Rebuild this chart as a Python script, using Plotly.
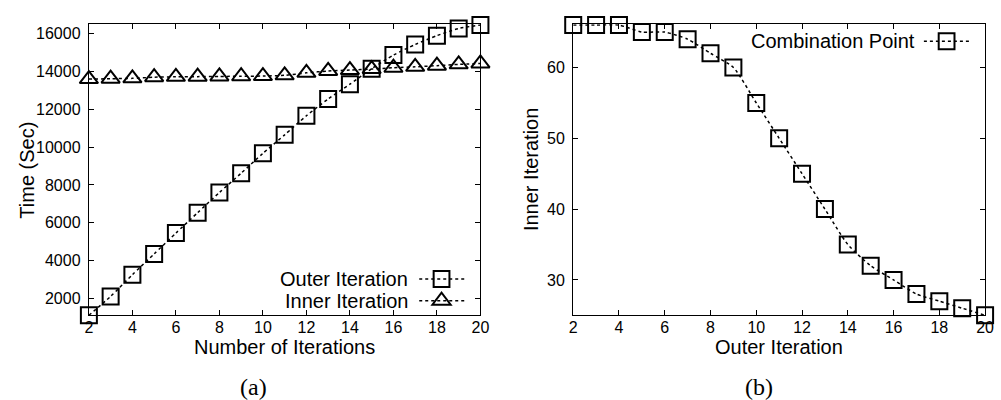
import plotly.graph_objects as go

# ---- data ----
iterations = list(range(2, 21))
outer_time = [1100, 2100, 3250, 4350, 5450, 6530, 7600, 8620, 9670, 10650,
              11660, 12550, 13330, 14150, 14870, 15430, 15900, 16280, 16460]
inner_time = [13600, 13620, 13640, 13700, 13720, 13730, 13740, 13750, 13760, 13800,
              13930, 14030, 14080, 14130, 14200, 14250, 14310, 14380, 14430]
outer_iter = list(range(2, 21))
combination_inner = [66, 66, 66, 65, 65, 64, 62, 60, 55, 50, 45, 40, 35, 32, 30, 28, 27, 26, 25]
x_ticks = [2, 4, 6, 8, 10, 12, 14, 16, 18, 20]
left_y_ticks = [2000, 4000, 6000, 8000, 10000, 12000, 14000, 16000]
right_y_ticks = [30, 40, 50, 60]

W, H = 1001, 400
def px(x):
    return x / W
def py(y):
    return 1 - y / H

FONT = "Liberation Sans, Arial, Helvetica, sans-serif"
LINE = dict(color="black", width=1.5, dash="dot", shape="spline", smoothing=0.6)

fig = go.Figure()
fig.add_trace(go.Scatter(x=iterations, y=outer_time, mode="lines+markers", name="Outer Iteration",
                         line=LINE, cliponaxis=False,
                         marker=dict(symbol="square-open", size=16, color="black", line=dict(width=2, color="black")),
                         xaxis="x", yaxis="y"))
fig.add_trace(go.Scatter(x=iterations, y=inner_time, mode="lines+markers", name="Inner Iteration",
                         line=LINE, cliponaxis=False,
                         marker=dict(symbol="triangle-up-open", size=16, color="black", line=dict(width=2, color="black")),
                         xaxis="x", yaxis="y"))
fig.add_trace(go.Scatter(x=outer_iter, y=combination_inner, mode="lines+markers", name="Combination Point",
                         line=LINE, cliponaxis=False,
                         marker=dict(symbol="square-open", size=16, color="black", line=dict(width=2, color="black")),
                         xaxis="x2", yaxis="y2"))

axis_common = dict(showline=True, linecolor="black", linewidth=1.3, mirror="allticks",
                   ticks="inside", ticklen=5, tickwidth=1, tickcolor="black",
                   showgrid=False, zeroline=False,
                   tickfont=dict(family=FONT, size=16, color="black"))

ydom = [py(315.3), py(24.3)]
fig.update_layout(
    width=W, height=H, margin=dict(l=0, r=0, t=0, b=0),
    plot_bgcolor="white", paper_bgcolor="white", showlegend=False,
    xaxis=dict(domain=[px(86), px(482.7)], range=[2, 20], tickvals=x_ticks, anchor="y",
               ticklabelstandoff=-3, **axis_common),
    yaxis=dict(domain=ydom, range=[1100, 16500], tickvals=left_y_ticks, anchor="x",
               tickformat="d", ticklabelstandoff=4, **axis_common),
    xaxis2=dict(domain=[px(576.7), px(994)], range=[2, 20], tickvals=x_ticks, anchor="y2",
                ticklabelstandoff=-3, **axis_common),
    yaxis2=dict(domain=ydom, range=[25, 66.1], tickvals=right_y_ticks, anchor="x2",
                ticklabelstandoff=4, **axis_common),
)

ann = []
def text(t, x, y, size=20, xanchor="center", angle=0, family=FONT):
    ann.append(dict(text=t, x=px(x), y=py(y), xref="paper", yref="paper", showarrow=False,
                    xanchor=xanchor, yanchor="middle", textangle=angle,
                    font=dict(family=family, size=size, color="black")))

text("Number of Iterations", 284.3, 346.7)
text("Outer Iteration", 785.3, 346.7)
text("Time (Sec)", 23, 170, angle=-90)
text("Inner Iteration", 534, 170, angle=-90)
text("(a)", 253, 386.5, size=24, family="Liberation Serif, Times New Roman, serif")
text("(b)", 765, 386.5, size=24, family="Liberation Serif, Times New Roman, serif")

# legend entries (text left of sample, gnuplot style)
shapes = []
def legend_entry(label, tx, ty, x0, x1, xm, symbol):
    text(label, tx, ty, xanchor="right")
    shapes.append(dict(type="line", xref="paper", yref="paper", x0=px(x0), x1=px(x1), y0=py(ty), y1=py(ty),
                       line=dict(color="black", width=1.5, dash="dot")))
    if symbol == "square":
        s = 8
        shapes.append(dict(type="rect", xref="paper", yref="paper", x0=px(xm - s), x1=px(xm + s),
                           y0=py(ty + s), y1=py(ty - s), line=dict(color="black", width=2)))
    else:
        r = 8
        rt = r * 2 / 3 ** 0.5
        path = "M{},{} L{},{} L{},{} Z".format(px(xm - rt), py(ty + r / 2), px(xm + rt), py(ty + r / 2),
                                               px(xm), py(ty - r))
        shapes.append(dict(type="path", xref="paper", yref="paper", path=path, line=dict(color="black", width=2)))

legend_entry("Outer Iteration", 411.7, 279, 420.7, 466.7, 443.3, "square")
legend_entry("Inner Iteration", 411.7, 300.7, 420.7, 466.7, 443.3, "triangle")
legend_entry("Combination Point", 925, 41.3, 932, 979, 955, "square")

fig.update_layout(annotations=ann, shapes=shapes)

fig.write_html("out.html", config={"displayModeBar": False},
               post_script="document.body.style.margin='0';")
